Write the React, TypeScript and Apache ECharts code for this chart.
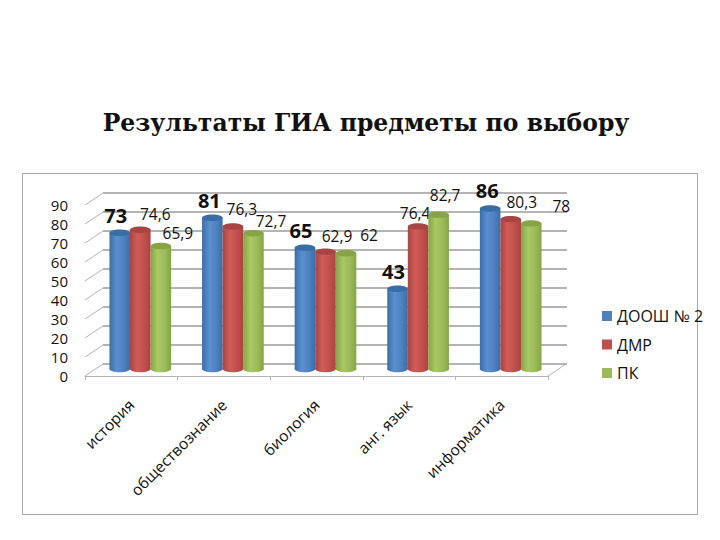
import React, { useEffect, useRef } from "react";
import * as echarts from "echarts";

const categories = ["история", "обществознание", "биология", "анг. язык", "информатика"];
const seriesNames = ["ДООШ № 2", "ДМР", "ПК"];
const dooshValues = [73, 81, 65, 43, 86];
const dmrValues = [74.6, 76.3, 62.9, 76.4, 80.3];
const pkValues = [65.9, 72.7, 62, 82.7, 78];
const yTicks = [0, 10, 20, 30, 40, 50, 60, 70, 80, 90];
const titleText = "Результаты ГИА предметы по выбору";

const COLORS = [
  { base: "#4f81bd", dark: "#3b6ea8", light: "#5a8fd0", top: "#3a6ca6" },
  { base: "#c0504d", dark: "#aa4340", light: "#d05c58", top: "#a84441" },
  { base: "#9bbb59", dark: "#85a546", light: "#a9c964", top: "#86a445" },
];
const LABEL_OFFSETS: number[][][] = [
  [[-4, -17], [-3, -17], [-4, -17], [-4, -17], [-3, -18]],
  [[15, -16], [9, -18], [11.5, -16], [-3, -13], [11, -17]],
  [[17, -13], [17.6, -12], [23, -18], [6.5, -20], [30, -17]],
];
const GRID_COLOR = "#b4b4b4";
const FONT = "'Open Sans', sans-serif";

function cylinder(seriesIndex: number) {
  const c = COLORS[seriesIndex];
  return (params: any, api: any) => {
    const cat = api.value(0);
    const val = api.value(1);
    const band = api.size([1, 0])[0];
    const w = band * 0.222;
    const [cx0, yTop] = api.coord([cat, val]);
    const [, yBase] = api.coord([cat, 0]);
    const cx = cx0 + (seriesIndex - 1) * w;
    const ry = 3.2;
    const off = LABEL_OFFSETS[seriesIndex][params.dataIndex];
    const bold = seriesIndex === 0;
    const fill = new echarts.graphic.LinearGradient(0, 0, 1, 0, [
      { offset: 0, color: c.dark },
      { offset: 0.35, color: c.light },
      { offset: 0.7, color: c.base },
      { offset: 1, color: c.dark },
    ]);
    return {
      type: "group",
      children: [
        { type: "ellipse", shape: { cx, cy: yBase, rx: w / 2, ry }, style: { fill } },
        { type: "rect", shape: { x: cx - w / 2, y: yTop, width: w, height: yBase - yTop }, style: { fill } },
        { type: "ellipse", shape: { cx, cy: yTop, rx: w / 2, ry }, style: { fill: c.top } },
        {
          type: "text",
          x: cx + off[0],
          y: yTop + off[1],
          style: {
            text: String(val).replace(".", ","),
            x: 0,
            y: 0,
            align: "center",
            verticalAlign: "middle",
            fill: "#111",
            font: bold ? `bold 20px ${FONT}` : `15.5px ${FONT}`,
          },
        },
      ],
    };
  };
}

export default function App() {
  const ref = useRef<HTMLDivElement>(null);
  useEffect(() => {
    const chart = echarts.init(ref.current!, null, { renderer: "svg" });
    const values = [dooshValues, dmrValues, pkValues];
    chart.setOption({
      animation: false,
      backgroundColor: "#fff",
      title: {
        text: titleText,
        left: 361,
        top: 106,
        textAlign: "center",
        textStyle: { fontFamily: "'DejaVu Serif', serif", fontWeight: "bold", fontSize: 23.5, color: "#111" },
      },
      legend: {
        orient: "vertical",
        left: 597,
        top: 303,
        itemWidth: 10,
        itemHeight: 10,
        itemGap: 12.5,
        icon: "rect",
        data: seriesNames,
        textStyle: { fontFamily: FONT, fontSize: 16, color: "#111" },
      },
      grid: [
        { left: 85, width: 463, top: 205, height: 171 },
        { left: 103, width: 464, top: 193, height: 171 },
        { left: 94, width: 463, top: 201, height: 168 },
      ],
      xAxis: [
        {
          type: "category",
          gridIndex: 0,
          data: categories,
          axisLine: { lineStyle: { color: GRID_COLOR, width: 1 } },
          axisTick: { show: true, length: 4, lineStyle: { color: GRID_COLOR } },
          axisLabel: { rotate: 45, margin: 26, fontFamily: FONT, fontSize: 15.5, color: "#111", interval: 0 },
        },
        { type: "category", gridIndex: 1, data: categories, show: false },
        { type: "category", gridIndex: 2, data: categories, show: false },
      ],
      yAxis: [
        {
          type: "value",
          gridIndex: 0,
          min: 0,
          max: 90,
          interval: 10,
          axisLine: { show: false },
          axisTick: { show: false },
          splitLine: { show: false },
          axisLabel: { margin: 17, fontFamily: FONT, fontSize: 15, color: "#111", padding: [2, 0, 0, 0] },
        },
        {
          type: "value",
          gridIndex: 1,
          min: 0,
          max: 90,
          interval: 10,
          axisLine: { show: false },
          axisTick: { show: false },
          axisLabel: { show: false },
          splitLine: { show: true, lineStyle: { color: GRID_COLOR, width: 2 } },
        },
        { type: "value", gridIndex: 2, min: 0, max: 90, show: false },
      ],
      series: [
        {
          type: "custom",
          name: "slant",
          xAxisIndex: 0,
          yAxisIndex: 0,
          silent: true,
          z: 1,
          data: yTicks.map((t) => [0, t]),
          encode: { x: 0, y: 1 },
          renderItem: (_p: any, api: any) => {
            const band = api.size([1, 0])[0];
            const [x0, y] = api.coord([0, api.value(1)]);
            return {
              type: "line",
              shape: { x1: x0 - band / 2, y1: y, x2: x0 - band / 2 + 18, y2: y - 12 },
              style: { stroke: GRID_COLOR, lineWidth: 1 },
            };
          },
        },
        {
          type: "custom",
          name: "floor",
          xAxisIndex: 0,
          yAxisIndex: 0,
          silent: true,
          z: 1,
          data: [[categories.length - 1, 0]],
          encode: { x: 0, y: 1 },
          renderItem: (_p: any, api: any) => {
            const band = api.size([1, 0])[0];
            const [x0, y] = api.coord([api.value(0), 0]);
            return {
              type: "line",
              shape: { x1: x0 + band / 2, y1: y, x2: x0 + band / 2 + 18, y2: y - 12 },
              style: { stroke: GRID_COLOR, lineWidth: 1 },
            };
          },
        },
        ...seriesNames.map((name, s) => ({
          type: "custom",
          name,
          xAxisIndex: 2,
          yAxisIndex: 2,
          z: 3 + s,
          itemStyle: { color: COLORS[s].base },
          data: values[s].map((v, i) => [i, v]),
          encode: { x: 0, y: 1 },
          renderItem: cylinder(s),
        })),
      ],
      graphic: [
        {
          type: "rect",
          silent: true,
          z: -1,
          shape: { x: 22.5, y: 173.5, width: 675, height: 341 },
          style: { fill: "none", stroke: "#a6a6a6", lineWidth: 1 },
        },
      ],
    });
    return () => chart.dispose();
  }, []);
  return <div ref={ref} style={{ position: "fixed", left: 0, top: 0, width: 720, height: 540 }} />;
}
